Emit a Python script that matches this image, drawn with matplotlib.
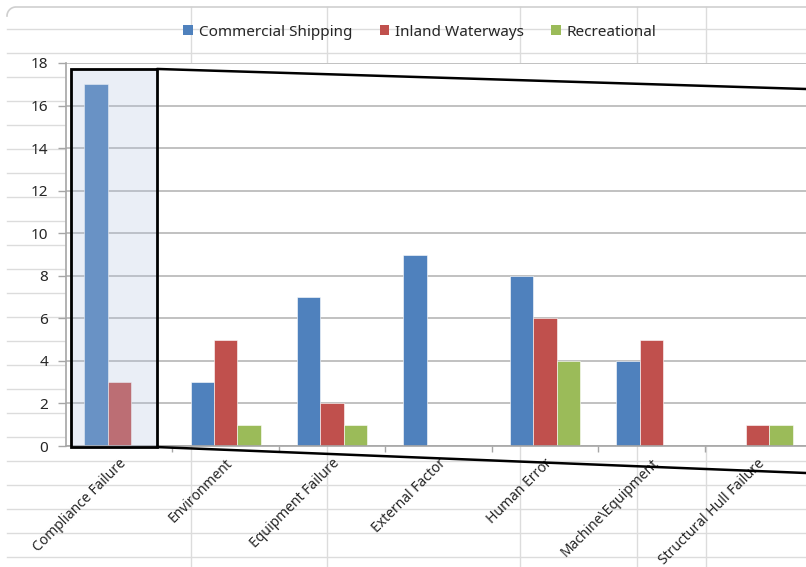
import matplotlib
matplotlib.use("Agg")
import matplotlib.pyplot as plt
from matplotlib.patches import Rectangle, Patch, ConnectionPatch
from matplotlib.transforms import ScaledTranslation
import numpy as np

plt.rcParams["font.family"] = ["Noto Sans", "DejaVu Sans"]

categories = [
    "Compliance Failure",
    "Environment",
    "Equipment Failure",
    "External Factor",
    "Human Error",
    "Machine\\Equipment",
    "Structural Hull Failure",
]
commercial = [17, 3, 7, 9, 8, 4, 0]
inland = [3, 5, 2, 0, 6, 5, 1]
recreational = [0, 1, 1, 0, 4, 0, 1]

series_names = ["Commercial Shipping", "Inland Waterways", "Recreational"]
series_colors = ["#4f81bd", "#c0504d", "#9bbb59"]

W, H = 806, 567
fig = plt.figure(figsize=(W / 100, H / 100), dpi=100)

# worksheet grid behind the transparent chart area
bg = fig.add_axes([0, 0, 1, 1], zorder=0)
bg.set_xlim(0, W)
bg.set_ylim(H, 0)
bg.axis("off")
sheet_color = "#dcdcdc"
row_step = 24
for y in np.arange(29, H, row_step):
    bg.plot([7, W], [y, y], color=sheet_color, lw=1.0)
for x in [191, 327, 520, 637, 706]:
    bg.plot([x, x], [7, H], color=sheet_color, lw=1.0)
# chart area border (top edge with rounded corner)
t = np.linspace(np.pi, 1.5 * np.pi, 20)
r = 9
bg.plot(np.r_[7 + r + r * np.cos(t), W], np.r_[7 + r + r * np.sin(t), 7],
        color="#cfcfcf", lw=1.2)

# plot area
left, right, top, bottom = 66, 811, 63, 446
ax = fig.add_axes([left / W, 1 - bottom / H, (right - left) / W, (bottom - top) / H],
                  zorder=2)
ax.set_facecolor("white")

x = np.arange(len(categories))
bar_w = 0.22
for i, (vals, color) in enumerate(zip([commercial, inland, recreational], series_colors)):
    ax.bar(x + (i - 1) * bar_w, vals, width=bar_w, color=color,
           edgecolor="white", linewidth=0.4, zorder=2)

ax.set_xlim(-0.5, len(categories) - 0.5)
ax.set_ylim(0, 18)
ax.set_yticks(np.arange(0, 19, 2))
ax.yaxis.grid(True, color="#bcbcbc", lw=1.3, zorder=0)
ax.set_axisbelow(True)

for s in ["top", "right"]:
    ax.spines[s].set_visible(False)
for s in ["left", "bottom"]:
    ax.spines[s].set_color("#a6a6a6")
    ax.spines[s].set_linewidth(1.2)

ax.tick_params(axis="y", length=6, width=1.0, color="#a6a6a6", pad=7,
               labelsize=11, labelcolor="#262626")
ax.set_xticks(x)
ax.set_xticks(x[:-1] + 0.5, minor=True)
ax.tick_params(axis="x", which="major", length=0, pad=11)
ax.tick_params(axis="x", which="minor", length=4, width=1.0, color="#a6a6a6")
ax.set_xticklabels(categories, rotation=45, ha="right", va="center",
                   rotation_mode="anchor", fontsize=10, color="#262626")
shift = ScaledTranslation(5 / 100, 0, fig.dpi_scale_trans)
for lab in ax.get_xticklabels():
    lab.set_transform(lab.get_transform() + shift)

# highlight box around the first category
focus = 0
box_l, box_r = focus - 0.453, focus + 0.355
box_b, box_t = -0.05, max(commercial[focus], inland[focus], recreational[focus]) + 0.72
ax.add_patch(Rectangle((box_l, box_b), box_r - box_l, box_t - box_b,
                       facecolor=(178 / 255, 193 / 255, 222 / 255, 0.27),
                       edgecolor="black", lw=2.0, zorder=4, clip_on=False))

# lines fanning out from the box
for yA, yB in [(box_t, 89), (box_b, 473)]:
    con = ConnectionPatch(xyA=(box_r, yA), coordsA=ax.transData,
                          xyB=(1.0, 1 - yB / H), coordsB=fig.transFigure,
                          color="black", lw=1.8, zorder=5)
    con.set_clip_on(False)
    fig.add_artist(con)

handles = [Patch(facecolor=c, edgecolor="none", label=n)
           for n, c in zip(series_names, series_colors)]
fig.legend(handles=handles, loc="center", bbox_to_anchor=(420 / W, 1 - 32 / H),
           ncol=3, frameon=False, fontsize=11, handlelength=0.6,
           handleheight=0.6, handletextpad=0.4, columnspacing=1.8,
           labelcolor="#262626")

fig.savefig("out.png", dpi=100)
